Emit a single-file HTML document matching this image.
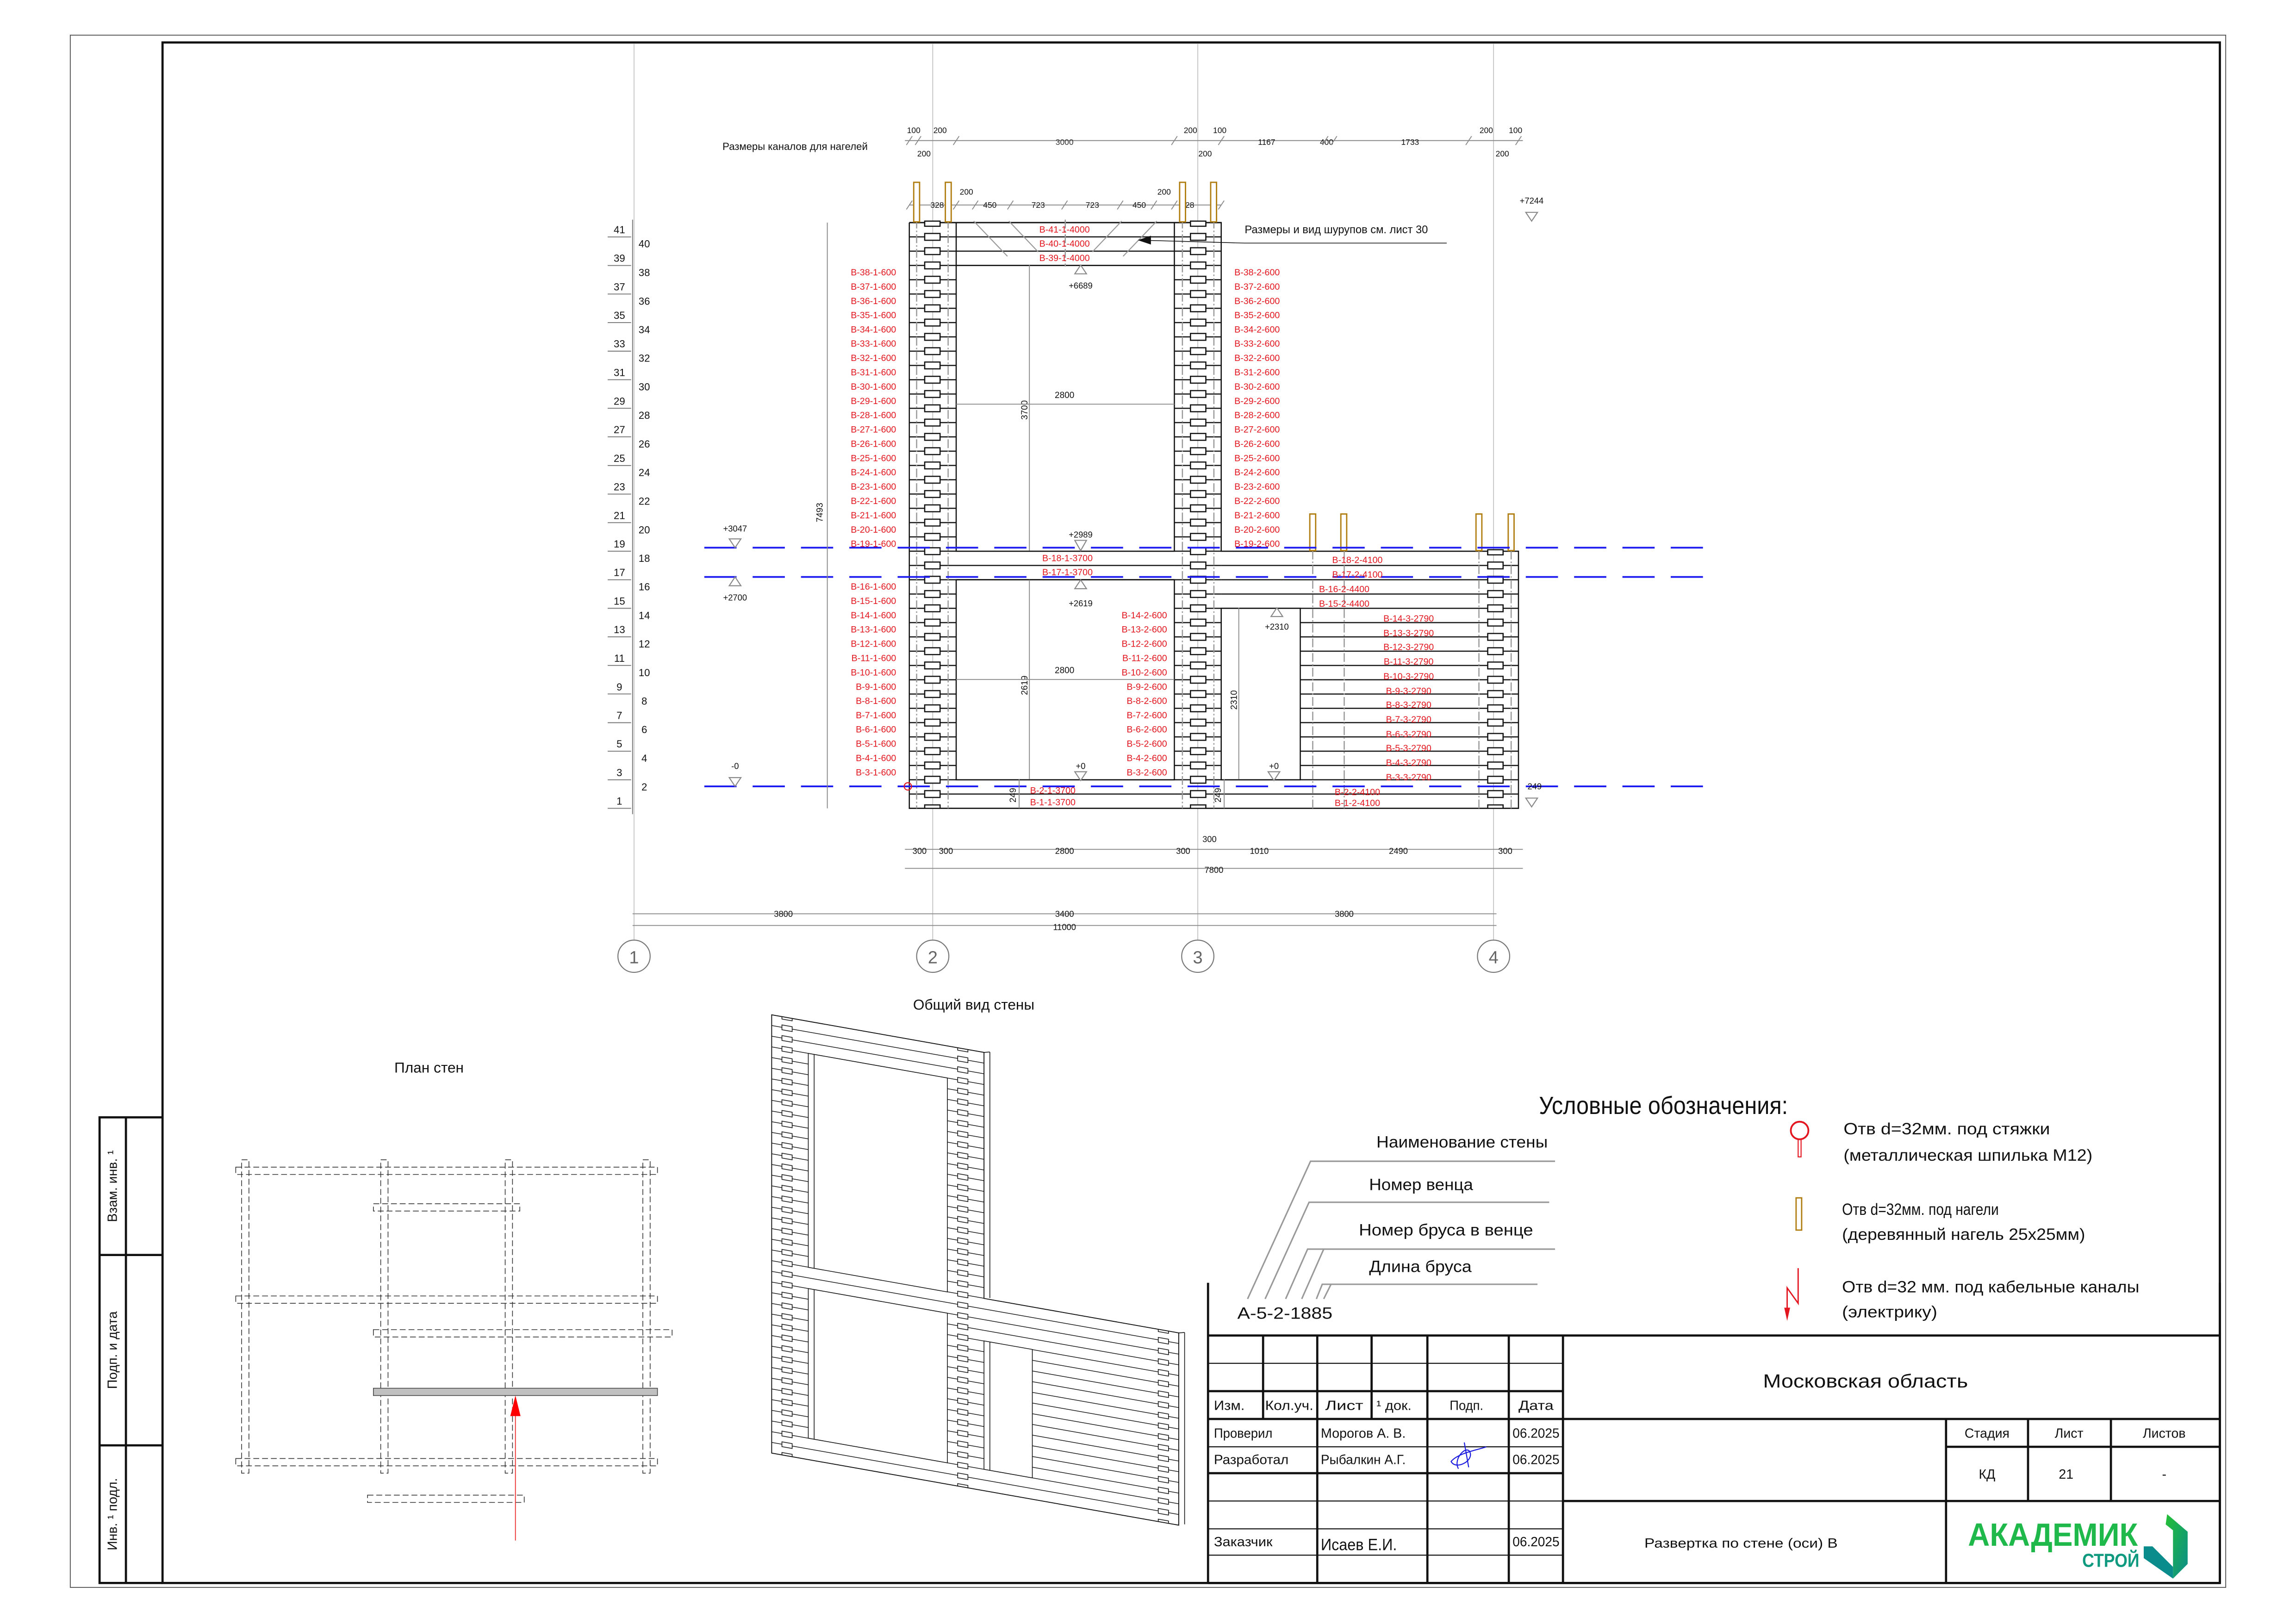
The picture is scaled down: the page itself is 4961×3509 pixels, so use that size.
<!DOCTYPE html>
<html><head><meta charset="utf-8"><style>
html,body{margin:0;padding:0;background:#fff}
svg{display:block}
text{font-family:"Liberation Sans Narrow","Liberation Sans",sans-serif;dominant-baseline:central}
.r{fill:#e3161f;font-size:6.2px}
.k{fill:#111;font-size:6px}
.t{fill:#111;font-size:9px}
.dim{stroke:#8a8a8a;stroke-width:0.6;fill:none}
.w{stroke:#111;stroke-width:0.8;fill:none}
.g{stroke:#999;stroke-width:0.8;fill:none;stroke-dasharray:6 1.5 1 1.5}
.ax{stroke:#bbb;stroke-width:0.5;fill:none}
.bl{stroke:#1a1af0;stroke-width:1.2;fill:none;stroke-dasharray:22 11}
.pd{stroke:#333;stroke-width:0.5;fill:none;stroke-dasharray:4 2}
.tb{stroke:#111;stroke-width:1.5;fill:none}
.tn{stroke:#111;stroke-width:0.7;fill:none}
.lv{stroke:#888;stroke-width:0.7;fill:#fff}
</style></head><body>
<svg width="4961" height="3509" viewBox="0 0 1568 1109" preserveAspectRatio="none" xmlns="http://www.w3.org/2000/svg">
<defs>
<pattern id="pb" patternUnits="userSpaceOnUse" x="0" y="147.12" width="1568" height="9.756">
<line x1="0" y1="4.878" x2="1568" y2="4.878" stroke="#111" stroke-width="0.8"/>
<rect x="631.5" y="2.55" width="10.5" height="4.65" fill="#fff" stroke="#111" stroke-width="0.8"/>
<rect x="813" y="2.55" width="10.5" height="4.65" fill="#fff" stroke="#111" stroke-width="0.8"/>
<rect x="1016" y="2.55" width="10.5" height="4.65" fill="#fff" stroke="#111" stroke-width="0.8"/>
</pattern>
<pattern id="pi" patternUnits="userSpaceOnUse" x="0" y="-3.65" width="300" height="7.3">
<line x1="0" y1="3.65" x2="300" y2="3.65" stroke="#111" stroke-width="0.5"/>
<rect x="7" y="2" width="7" height="3.3" fill="#fff" stroke="#111" stroke-width="0.5"/>
<rect x="127" y="2" width="7" height="3.3" fill="#fff" stroke="#111" stroke-width="0.5"/>
<rect x="264" y="2" width="7" height="3.3" fill="#fff" stroke="#111" stroke-width="0.5"/>
</pattern>
<linearGradient id="lg" x1="0" y1="0" x2="1" y2="1"><stop offset="0" stop-color="#25c035"/><stop offset="1" stop-color="#0a8c8c"/></linearGradient>
</defs>

<!-- frames -->
<rect x="48" y="24" width="1472" height="1060" fill="none" stroke="#555" stroke-width="0.6"/>
<rect x="111" y="29" width="1405" height="1052" fill="none" stroke="#111" stroke-width="1.5"/>
<!-- left stamp -->
<polyline points="111,763 68,763 68,1081 111,1081" class="tb"/>
<line x1="86" y1="763" x2="86" y2="1081" class="tb"/>
<line x1="68" y1="857" x2="111" y2="857" class="tb"/>
<line x1="68" y1="987" x2="111" y2="987" class="tb"/>
<text class="t" transform="translate(77,810) rotate(-90)" text-anchor="middle">Взам. инв. ¹</text>
<text class="t" transform="translate(77,922) rotate(-90)" text-anchor="middle">Подп. и дата</text>
<text class="t" transform="translate(77,1034) rotate(-90)" text-anchor="middle">Инв. ¹ подл.</text>

<!-- axes -->
<line x1="433" y1="30" x2="433" y2="642" class="ax"/>
<line x1="637" y1="30" x2="637" y2="642" class="ax"/>
<line x1="818" y1="30" x2="818" y2="642" class="ax"/>
<line x1="1020" y1="30" x2="1020" y2="642" class="ax"/>
<g fill="#fff" stroke="#777" stroke-width="0.7">
<circle cx="433" cy="653" r="11"/><circle cx="637" cy="653" r="11"/><circle cx="818" cy="653" r="11"/><circle cx="1020" cy="653" r="11"/></g>
<g class="t" text-anchor="middle" style="font-size:12px;fill:#666"><text x="433" y="654">1</text><text x="637" y="654">2</text><text x="818" y="654">3</text><text x="1020" y="654">4</text></g>

<!-- row numbers -->
<line x1="432" y1="150" x2="432" y2="556" stroke="#777" stroke-width="0.6"/>
<g stroke="#777" stroke-width="0.6">
<line x1="415" y1="161.8" x2="431" y2="161.8"/><line x1="415" y1="181.3" x2="431" y2="181.3"/><line x1="415" y1="200.8" x2="431" y2="200.8"/><line x1="415" y1="220.3" x2="431" y2="220.3"/><line x1="415" y1="239.8" x2="431" y2="239.8"/><line x1="415" y1="259.3" x2="431" y2="259.3"/><line x1="415" y1="278.8" x2="431" y2="278.8"/><line x1="415" y1="298.3" x2="431" y2="298.3"/><line x1="415" y1="317.9" x2="431" y2="317.9"/><line x1="415" y1="337.4" x2="431" y2="337.4"/><line x1="415" y1="356.9" x2="431" y2="356.9"/><line x1="415" y1="376.4" x2="431" y2="376.4"/><line x1="415" y1="395.9" x2="431" y2="395.9"/><line x1="415" y1="415.4" x2="431" y2="415.4"/><line x1="415" y1="434.9" x2="431" y2="434.9"/><line x1="415" y1="454.4" x2="431" y2="454.4"/><line x1="415" y1="473.9" x2="431" y2="473.9"/><line x1="415" y1="493.5" x2="431" y2="493.5"/><line x1="415" y1="513" x2="431" y2="513"/><line x1="415" y1="532.5" x2="431" y2="532.5"/><line x1="415" y1="552" x2="431" y2="552"/>
</g>
<g class="k" text-anchor="middle" style="font-size:7px">
<text x="423" y="156.9">41</text><text x="440" y="166.6">40</text><text x="423" y="176.4">39</text><text x="440" y="186.1">38</text><text x="423" y="195.9">37</text><text x="440" y="205.7">36</text><text x="423" y="215.4">35</text><text x="440" y="225.2">34</text><text x="423" y="234.9">33</text><text x="440" y="244.7">32</text><text x="423" y="254.4">31</text><text x="440" y="264.2">30</text><text x="423" y="274">29</text><text x="440" y="283.7">28</text><text x="423" y="293.5">27</text><text x="440" y="303.2">26</text><text x="423" y="313">25</text><text x="440" y="322.7">24</text><text x="423" y="332.5">23</text><text x="440" y="342.2">22</text><text x="423" y="352">21</text><text x="440" y="361.8">20</text><text x="423" y="371.5">19</text><text x="440" y="381.3">18</text><text x="423" y="391">17</text><text x="440" y="400.8">16</text><text x="423" y="410.5">15</text><text x="440" y="420.3">14</text><text x="423" y="430">13</text><text x="440" y="439.8">12</text><text x="423" y="449.6">11</text><text x="440" y="459.3">10</text><text x="423" y="469.1">9</text><text x="440" y="478.8">8</text><text x="423" y="488.6">7</text><text x="440" y="498.3">6</text><text x="423" y="508.1">5</text><text x="440" y="517.9">4</text><text x="423" y="527.6">3</text><text x="440" y="537.4">2</text><text x="423" y="547.1">1</text>
</g>

<!-- top dims -->
<text class="k" x="543" y="100" text-anchor="middle" style="font-size:7px">Размеры каналов для нагелей</text>
<line x1="618" y1="96" x2="1040" y2="96" class="dim"/>
<line x1="621" y1="140" x2="834" y2="140" class="dim"/>
<g class="k" text-anchor="middle" style="font-size:5.5px">
<text x="624" y="89">100</text><text x="642" y="89">200</text><text x="813" y="89">200</text><text x="833" y="89">100</text><text x="1015" y="89">200</text><text x="1035" y="89">100</text>
<text x="631" y="105">200</text><text x="823" y="105">200</text><text x="1026" y="105">200</text>
<text x="727" y="97" style="fill:#333">3000</text><text x="865" y="97">1167</text><text x="906" y="97">400</text><text x="963" y="97">1733</text>
<text x="660" y="131">200</text><text x="795" y="131">200</text>
<text x="640" y="140">328</text><text x="676" y="140">450</text><text x="709" y="140">723</text><text x="746" y="140">723</text><text x="778" y="140">450</text><text x="811" y="140">328</text>
</g>
<g stroke="#888" stroke-width="0.6">
<line x1="619" y1="99" x2="623" y2="93"/><line x1="625" y1="99" x2="629" y2="93"/><line x1="651" y1="99" x2="655" y2="93"/><line x1="800" y1="99" x2="804" y2="93"/><line x1="832" y1="99" x2="836" y2="93"/><line x1="903" y1="99" x2="907" y2="93"/><line x1="909" y1="99" x2="913" y2="93"/><line x1="1001" y1="99" x2="1005" y2="93"/><line x1="1035" y1="99" x2="1039" y2="93"/>
<line x1="619" y1="143" x2="623" y2="137"/><line x1="651" y1="143" x2="655" y2="137"/><line x1="664" y1="143" x2="668" y2="137"/><line x1="688" y1="143" x2="692" y2="137"/><line x1="725" y1="143" x2="729" y2="137"/><line x1="763" y1="143" x2="767" y2="137"/><line x1="786" y1="143" x2="790" y2="137"/><line x1="800" y1="143" x2="804" y2="137"/><line x1="832" y1="143" x2="836" y2="137"/>
</g>

<!-- wall fills -->
<rect x="621" y="152" width="32" height="400" fill="url(#pb)"/>
<rect x="802" y="152" width="32" height="400" fill="url(#pb)"/>
<rect x="653" y="152" width="149" height="29.3" fill="url(#pb)"/>
<rect x="653" y="376.4" width="149" height="19.5" fill="url(#pb)"/>
<rect x="653" y="532.5" width="149" height="19.5" fill="url(#pb)"/>
<rect x="834" y="376.4" width="203" height="175.6" fill="url(#pb)"/>
<!-- door -->
<rect x="834" y="415.4" width="54" height="117.1" fill="#fff" stroke="#111" stroke-width="0.8"/>
<!-- outlines -->
<polyline points="621,152 621,552 1037,552 1037,376.4 834,376.4 834,152 621,152" class="w"/>
<polyline points="653,181.3 802,181.3 802,376.4 653,376.4 653,181.3" class="w"/>
<polyline points="653,395.9 802,395.9 802,532.5 653,532.5 653,395.9" class="w"/>
<line x1="802" y1="152" x2="802" y2="181.3" class="w"/><line x1="653" y1="152" x2="653" y2="181.3" class="w"/>
<!-- notches -->
<rect x="631.5" y="151" width="10.5" height="3.5" fill="#fff" stroke="#111" stroke-width="0.8"/>
<rect x="813" y="151" width="10.5" height="3.5" fill="#fff" stroke="#111" stroke-width="0.8"/>
<rect x="1016" y="375.4" width="10.5" height="3.5" fill="#fff" stroke="#111" stroke-width="0.8"/>
<line x1="621" y1="152" x2="631.5" y2="152" class="w"/><line x1="642" y1="152" x2="813" y2="152" class="w"/><line x1="823.5" y1="152" x2="834" y2="152" class="w"/>
<!-- dashed verticals -->
<g class="g">
<line x1="626" y1="150" x2="626" y2="552"/><line x1="647.5" y1="150" x2="647.5" y2="552"/>
<line x1="807.5" y1="150" x2="807.5" y2="552"/><line x1="829" y1="150" x2="829" y2="552"/>
<line x1="896.5" y1="376" x2="896.5" y2="552"/><line x1="918" y1="376" x2="918" y2="552"/>
<line x1="1010" y1="376" x2="1010" y2="552"/><line x1="1032" y1="376" x2="1032" y2="552"/>
<line x1="727.5" y1="150" x2="727.5" y2="182"/>
</g>
<!-- screw diagonals -->
<g stroke="#999" stroke-width="0.7">
<line x1="665" y1="151" x2="688" y2="175"/><line x1="689" y1="151" x2="709" y2="172"/><line x1="766" y1="151" x2="746" y2="172"/><line x1="790" y1="151" x2="767" y2="175"/>
</g>
<!-- nagels -->
<g fill="#fff" stroke="#b07d10" stroke-width="0.9">
<rect x="624" y="124.5" width="4" height="27"/><rect x="645.6" y="124.5" width="4" height="27"/><rect x="805.6" y="124.5" width="4" height="27"/><rect x="826.8" y="124.5" width="4" height="27"/>
<rect x="894.5" y="351" width="4" height="25"/><rect x="915.7" y="351" width="4" height="25"/><rect x="1008" y="351" width="4" height="25"/><rect x="1030" y="351" width="4" height="25"/>
</g>

<!-- leader -->
<text class="k" x="850" y="157" style="font-size:7.5px">Размеры и вид шурупов см. лист 30</text>
<polyline points="988,166 850,166 778,164" stroke="#111" stroke-width="0.5" fill="none"/>
<polygon points="777,164 786,161 786,167" fill="#111"/>

<!-- blue dashed -->
<line x1="481" y1="374" x2="1165" y2="374" class="bl"/>
<line x1="481" y1="394" x2="1165" y2="394" class="bl"/>
<line x1="481" y1="537" x2="1165" y2="537" class="bl"/>

<!-- inner dims -->
<line x1="565" y1="152" x2="565" y2="552" class="dim"/>
<text class="k" transform="translate(560,350) rotate(-90)" text-anchor="middle">7493</text>
<line x1="703" y1="181" x2="703" y2="376" class="dim"/>
<text class="k" transform="translate(700,280) rotate(-90)" text-anchor="middle">3700</text>
<line x1="703" y1="396" x2="703" y2="532" class="dim"/>
<text class="k" transform="translate(700,468) rotate(-90)" text-anchor="middle">2619</text>
<line x1="846" y1="415" x2="846" y2="532" class="dim"/>
<text class="k" transform="translate(843,478) rotate(-90)" text-anchor="middle">2310</text>
<line x1="696" y1="532" x2="696" y2="552" class="dim"/>
<text class="k" transform="translate(692,543) rotate(-90)" text-anchor="middle">249</text>
<line x1="836" y1="532" x2="836" y2="552" class="dim"/>
<text class="k" transform="translate(832,543) rotate(-90)" text-anchor="middle">249</text>
<line x1="653" y1="276" x2="802" y2="276" class="dim"/><text class="k" x="727" y="270" text-anchor="middle">2800</text>
<line x1="653" y1="464" x2="802" y2="464" class="dim"/><text class="k" x="727" y="458" text-anchor="middle">2800</text>

<!-- levels -->
<g class="lv">
<polygon points="738,181 734,187 742,187"/>
<polygon points="734,369 742,369 738,376"/>
<polygon points="738,396 734,402 742,402"/>
<polygon points="498,368 506,368 502,374"/>
<polygon points="502,394 498,400 506,400"/>
<polygon points="498,531 506,531 502,537"/>
<polygon points="734,527 742,527 738,533"/>
<polygon points="866,527 874,527 870,533"/>
<polygon points="872,415 868,421 876,421"/>
<polygon points="1042,145 1050,145 1046,151"/>
<polygon points="1042,545 1050,545 1046,551"/>
</g>
<g class="k" text-anchor="middle" style="font-size:5.8px">
<text x="738" y="195">+6689</text><text x="738" y="365">+2989</text><text x="738" y="412">+2619</text>
<text x="502" y="361">+3047</text><text x="502" y="408">+2700</text><text x="502" y="523">-0</text>
<text x="738" y="523">+0</text><text x="870" y="523">+0</text><text x="872" y="428">+2310</text>
<text x="1046" y="137">+7244</text><text x="1048" y="537">249</text>
</g>

<!-- red labels -->
<g class="r" text-anchor="end">
<text x="612" y="186.1">В-38-1-600</text><text x="612" y="195.9">В-37-1-600</text><text x="612" y="205.7">В-36-1-600</text><text x="612" y="215.4">В-35-1-600</text><text x="612" y="225.2">В-34-1-600</text><text x="612" y="234.9">В-33-1-600</text><text x="612" y="244.7">В-32-1-600</text><text x="612" y="254.4">В-31-1-600</text><text x="612" y="264.2">В-30-1-600</text><text x="612" y="274">В-29-1-600</text><text x="612" y="283.7">В-28-1-600</text><text x="612" y="293.5">В-27-1-600</text><text x="612" y="303.2">В-26-1-600</text><text x="612" y="313">В-25-1-600</text><text x="612" y="322.7">В-24-1-600</text><text x="612" y="332.5">В-23-1-600</text><text x="612" y="342.2">В-22-1-600</text><text x="612" y="352">В-21-1-600</text><text x="612" y="361.8">В-20-1-600</text><text x="612" y="371.5">В-19-1-600</text>
<text x="612" y="400.8">В-16-1-600</text><text x="612" y="410.5">В-15-1-600</text><text x="612" y="420.3">В-14-1-600</text><text x="612" y="430">В-13-1-600</text><text x="612" y="439.8">В-12-1-600</text><text x="612" y="449.6">В-11-1-600</text><text x="612" y="459.3">В-10-1-600</text><text x="612" y="469.1">В-9-1-600</text><text x="612" y="478.8">В-8-1-600</text><text x="612" y="488.6">В-7-1-600</text><text x="612" y="498.3">В-6-1-600</text><text x="612" y="508.1">В-5-1-600</text><text x="612" y="517.9">В-4-1-600</text><text x="612" y="527.6">В-3-1-600</text>
<text x="797" y="420.3">В-14-2-600</text><text x="797" y="430">В-13-2-600</text><text x="797" y="439.8">В-12-2-600</text><text x="797" y="449.6">В-11-2-600</text><text x="797" y="459.3">В-10-2-600</text><text x="797" y="469.1">В-9-2-600</text><text x="797" y="478.8">В-8-2-600</text><text x="797" y="488.6">В-7-2-600</text><text x="797" y="498.3">В-6-2-600</text><text x="797" y="508.1">В-5-2-600</text><text x="797" y="517.9">В-4-2-600</text><text x="797" y="527.6">В-3-2-600</text>
</g>
<g class="r" text-anchor="start">
<text x="843" y="186.1">В-38-2-600</text><text x="843" y="195.9">В-37-2-600</text><text x="843" y="205.7">В-36-2-600</text><text x="843" y="215.4">В-35-2-600</text><text x="843" y="225.2">В-34-2-600</text><text x="843" y="234.9">В-33-2-600</text><text x="843" y="244.7">В-32-2-600</text><text x="843" y="254.4">В-31-2-600</text><text x="843" y="264.2">В-30-2-600</text><text x="843" y="274">В-29-2-600</text><text x="843" y="283.7">В-28-2-600</text><text x="843" y="293.5">В-27-2-600</text><text x="843" y="303.2">В-26-2-600</text><text x="843" y="313">В-25-2-600</text><text x="843" y="322.7">В-24-2-600</text><text x="843" y="332.5">В-23-2-600</text><text x="843" y="342.2">В-22-2-600</text><text x="843" y="352">В-21-2-600</text><text x="843" y="361.8">В-20-2-600</text><text x="843" y="371.5">В-19-2-600</text>
</g>
<g class="r" text-anchor="middle">
<text x="727" y="156.9">В-41-1-4000</text><text x="727" y="166.6">В-40-1-4000</text><text x="727" y="176.4">В-39-1-4000</text>
<text x="729" y="381.3">В-18-1-3700</text><text x="729" y="391">В-17-1-3700</text>
<text x="719" y="540">В-2-1-3700</text><text x="719" y="548">В-1-1-3700</text>
<text x="927" y="382.5">В-18-2-4100</text><text x="927" y="392.5">В-17-2-4100</text><text x="918" y="402.5">В-16-2-4400</text><text x="918" y="412.5">В-15-2-4400</text>
<text x="927" y="541">В-2-2-4100</text><text x="927" y="548.5">В-1-2-4100</text>
<text x="962" y="422.5">В-14-3-2790</text><text x="962" y="432.5">В-13-3-2790</text><text x="962" y="442">В-12-3-2790</text><text x="962" y="452">В-11-3-2790</text><text x="962" y="462">В-10-3-2790</text><text x="962" y="472">В-9-3-2790</text><text x="962" y="481.5">В-8-3-2790</text><text x="962" y="491.5">В-7-3-2790</text><text x="962" y="501.5">В-6-3-2790</text><text x="962" y="511">В-5-3-2790</text><text x="962" y="521">В-4-3-2790</text><text x="962" y="531">В-3-3-2790</text>
</g>
<circle cx="620" cy="537" r="2.5" fill="none" stroke="#e3161f" stroke-width="0.7"/>

<!-- bottom dims -->
<line x1="618" y1="580" x2="1040" y2="580" class="dim"/>
<line x1="618" y1="593" x2="1040" y2="593" class="dim"/>
<line x1="432" y1="624" x2="1022" y2="624" class="dim"/>
<line x1="432" y1="632" x2="1022" y2="632" class="dim"/>
<g class="k" text-anchor="middle" style="font-size:5.8px">
<text x="628" y="581">300</text><text x="646" y="581">300</text><text x="727" y="581">2800</text><text x="808" y="581">300</text><text x="860" y="581">1010</text><text x="955" y="581">2490</text><text x="1028" y="581">300</text>
<text x="826" y="573">300</text><text x="829" y="594">7800</text>
<text x="535" y="624">3800</text><text x="727" y="624">3400</text><text x="918" y="624">3800</text><text x="727" y="633">11000</text>
</g>

<!-- titles -->
<text class="t" x="665" y="686" text-anchor="middle" style="font-size:10px">Общий вид стены</text>
<text class="t" x="293" y="729" text-anchor="middle" style="font-size:10px">План стен</text>

<!-- isometric -->
<g transform="translate(527,693) skewY(10.04)">
<polygon points="0,0 145,0 145,168 278,168 278,299.3 0,299.3" fill="#fff" stroke="none"/>
<rect x="0" y="0" width="25" height="299.3" fill="url(#pi)"/>
<rect x="120" y="0" width="25" height="299.3" fill="url(#pi)"/>
<rect x="25" y="0" width="95" height="21.9" fill="url(#pi)"/>
<rect x="25" y="168" width="95" height="14.6" fill="url(#pi)"/>
<rect x="25" y="284.7" width="95" height="14.6" fill="url(#pi)"/>
<rect x="145" y="168" width="133" height="131.3" fill="url(#pi)"/>
<rect x="145" y="197" width="33" height="87.7" fill="#fff" stroke="#111" stroke-width="0.5"/>
<polygon points="0,0 145,0 145,168 278,168 278,299.3 0,299.3" fill="none" stroke="#111" stroke-width="0.6"/>
<rect x="25" y="21.9" width="95" height="146.1" fill="#fff" stroke="#111" stroke-width="0.5"/>
<rect x="25" y="182.5" width="95" height="102.2" fill="#fff" stroke="#111" stroke-width="0.5"/>
<g stroke="#111" stroke-width="0.5">
<line x1="29" y1="22" x2="29" y2="168"/><line x1="29" y1="182.5" x2="29" y2="284.7"/><line x1="149" y1="197" x2="149" y2="284.7"/>
<line x1="278" y1="168" x2="282" y2="167"/><line x1="282" y1="167" x2="282" y2="298"/><line x1="145" y1="0" x2="149" y2="-1"/><line x1="149" y1="-1" x2="149" y2="167"/>
</g>
</g>

<!-- plan -->
<g class="pd">
<rect x="161" y="797" width="288" height="5"/><rect x="161" y="885" width="288" height="5"/><rect x="161" y="996" width="288" height="5"/>
<rect x="255" y="822" width="100" height="5"/><rect x="255" y="908" width="204" height="5"/><rect x="251" y="1021" width="107" height="5"/>
<rect x="165" y="792" width="5" height="214"/><rect x="260" y="792" width="5" height="214"/><rect x="345" y="792" width="5" height="214"/><rect x="439" y="792" width="5" height="214"/>
</g>
<rect x="255" y="948" width="194" height="5" fill="#c0c0c0" stroke="#444" stroke-width="0.5"/>
<line x1="352" y1="1052" x2="352" y2="965" stroke="#e33" stroke-width="0.6"/>
<polygon points="352,953 348.5,967 355.5,967" fill="#f00"/>

<!-- legend -->
<text class="t" x="1051" y="755" style="font-size:17px" textLength="170" lengthAdjust="spacingAndGlyphs">Условные обозначения:</text>
<g class="t" style="font-size:11px">
<text x="940" y="780" textLength="117" lengthAdjust="spacingAndGlyphs">Наименование стены</text>
<text x="935" y="809" textLength="71" lengthAdjust="spacingAndGlyphs">Номер венца</text>
<text x="928" y="840" textLength="119" lengthAdjust="spacingAndGlyphs">Номер бруса в венце</text>
<text x="935" y="865" textLength="70" lengthAdjust="spacingAndGlyphs">Длина бруса</text>
<text x="845" y="897" textLength="65" lengthAdjust="spacingAndGlyphs">А-5-2-1885</text>
<text x="1259" y="771" textLength="141" lengthAdjust="spacingAndGlyphs">Отв d=32мм. под стяжки</text>
<text x="1259" y="789" textLength="170" lengthAdjust="spacingAndGlyphs">(металлическая шпилька М12)</text>
<text x="1258" y="826" textLength="107" lengthAdjust="spacingAndGlyphs">Отв d=32мм. под нагели</text>
<text x="1258" y="843" textLength="166" lengthAdjust="spacingAndGlyphs">(деревянный нагель 25х25мм)</text>
<text x="1258" y="879" textLength="203" lengthAdjust="spacingAndGlyphs">Отв d=32 мм. под кабельные каналы</text>
<text x="1258" y="896" textLength="65" lengthAdjust="spacingAndGlyphs">(электрику)</text>
</g>
<g stroke="#999" stroke-width="1" fill="none">
<polyline points="852,887 895,793 1062,793"/>
<polyline points="864,887 894,821 1058,821"/>
<polyline points="878,887 893,853 1062,853"/>
<polyline points="889,887 904,853"/>
<polyline points="899,887 903,877 1050,877"/>
<polyline points="904,887 909,877"/>
</g>
<circle cx="1229" cy="772" r="6" fill="none" stroke="#e3161f" stroke-width="1.2"/>
<rect x="1228" y="778" width="2" height="12" fill="none" stroke="#e3161f" stroke-width="0.7"/>
<rect x="1226.6" y="818" width="3.8" height="22" fill="#fff" stroke="#b07d10" stroke-width="0.9"/>
<polyline points="1228,866 1228,890 1220.5,879.5 1220.5,895" fill="none" stroke="#e3161f" stroke-width="0.9"/>
<polygon points="1220.5,902 1218.5,893 1222.5,893" fill="#e3161f"/>

<!-- title block -->
<line x1="825" y1="876" x2="825" y2="1081" class="tb"/>
<line x1="825" y1="912" x2="1516" y2="912" class="tb"/>
<line x1="825" y1="1081" x2="1516" y2="1081" class="tb"/>
<g class="tn">
<line x1="825" y1="931" x2="1068" y2="931"/><line x1="825" y1="1025" x2="1068" y2="1025"/><line x1="825" y1="1044" x2="1068" y2="1044"/><line x1="825" y1="1062" x2="1068" y2="1062"/><line x1="825" y1="988" x2="1068" y2="988"/>
</g>
<g class="tb">
<line x1="825" y1="950" x2="1068" y2="950"/><line x1="825" y1="969" x2="1516" y2="969"/><line x1="825" y1="1006" x2="1068" y2="1006"/>
<line x1="1068" y1="1025" x2="1516" y2="1025"/><line x1="1329" y1="988" x2="1516" y2="988"/>
<line x1="862.6" y1="912" x2="862.6" y2="969"/><line x1="936.7" y1="912" x2="936.7" y2="969"/>
<line x1="899.6" y1="912" x2="899.6" y2="1081"/><line x1="974.8" y1="912" x2="974.8" y2="1081"/><line x1="1030.4" y1="912" x2="1030.4" y2="1081"/><line x1="1067.4" y1="912" x2="1067.4" y2="1081"/>
<line x1="1329" y1="969" x2="1329" y2="1081"/><line x1="1385" y1="969" x2="1385" y2="1025"/><line x1="1441.6" y1="969" x2="1441.6" y2="1025"/>
<line x1="1516" y1="876" x2="1516" y2="1081"/>
</g>
<g class="t" style="font-size:9px">
<text x="829" y="960" textLength="21" lengthAdjust="spacingAndGlyphs">Изм.</text>
<text x="864" y="960" textLength="33" lengthAdjust="spacingAndGlyphs">Кол.уч.</text>
<text x="905" y="960" textLength="26" lengthAdjust="spacingAndGlyphs">Лист</text>
<text x="940" y="960" textLength="24" lengthAdjust="spacingAndGlyphs">¹ док.</text>
<text x="990" y="960" textLength="23" lengthAdjust="spacingAndGlyphs">Подп.</text>
<text x="1037" y="960" textLength="24" lengthAdjust="spacingAndGlyphs">Дата</text>
<text x="829" y="979" textLength="40" lengthAdjust="spacingAndGlyphs">Проверил</text>
<text x="902" y="979" textLength="58" lengthAdjust="spacingAndGlyphs">Морогов А. В.</text>
<text x="1033" y="979" textLength="32" lengthAdjust="spacingAndGlyphs">06.2025</text>
<text x="829" y="997" textLength="51" lengthAdjust="spacingAndGlyphs">Разработал</text>
<text x="902" y="997" textLength="58" lengthAdjust="spacingAndGlyphs">Рыбалкин А.Г.</text>
<text x="1033" y="997" textLength="32" lengthAdjust="spacingAndGlyphs">06.2025</text>
<text x="829" y="1053" textLength="40" lengthAdjust="spacingAndGlyphs">Заказчик</text>
<text x="902" y="1055" textLength="52" lengthAdjust="spacingAndGlyphs" style="font-size:11px">Исаев Е.И.</text>
<text x="1033" y="1053" textLength="32" lengthAdjust="spacingAndGlyphs">06.2025</text>
<text x="1357" y="979" text-anchor="middle">Стадия</text>
<text x="1413" y="979" text-anchor="middle">Лист</text>
<text x="1478" y="979" text-anchor="middle">Листов</text>
<text x="1357" y="1007" text-anchor="middle">КД</text>
<text x="1411" y="1007" text-anchor="middle">21</text>
<text x="1478" y="1007" text-anchor="middle">-</text>
<text x="1189" y="1054" text-anchor="middle" textLength="132" lengthAdjust="spacingAndGlyphs">Развертка по стене (оси) В</text>
<text x="1274" y="943" text-anchor="middle" style="font-size:13px" textLength="140" lengthAdjust="spacingAndGlyphs">Московская область</text>
</g>
<path d="M996,1003 C992,996 1002,986 1004,992 C1006,998 994,1004 991,998 C996,992 1010,990 1015,988 M1000,985 L1003,1002" fill="none" stroke="#1a1ae0" stroke-width="0.7"/>
<!-- logo -->
<text x="1344" y="1048" style="font-size:22px;font-weight:bold;fill:#1fb84a;font-family:'Liberation Sans Narrow','Liberation Sans',sans-serif" textLength="116" lengthAdjust="spacingAndGlyphs">АКАДЕМИК</text>
<text x="1422" y="1065.5" style="font-size:13px;font-weight:bold;fill:#0f9a80;font-family:'Liberation Sans Narrow','Liberation Sans',sans-serif" textLength="39" lengthAdjust="spacingAndGlyphs">СТРОЙ</text>
<polygon points="1480,1034 1494,1046 1494,1068 1484,1078 1484,1045 1479,1041" fill="url(#lg)"/>
<polygon points="1464,1056 1470,1056 1484,1070 1484,1078 1464,1064" fill="#0a8c8c"/>
</svg>
</body></html>
